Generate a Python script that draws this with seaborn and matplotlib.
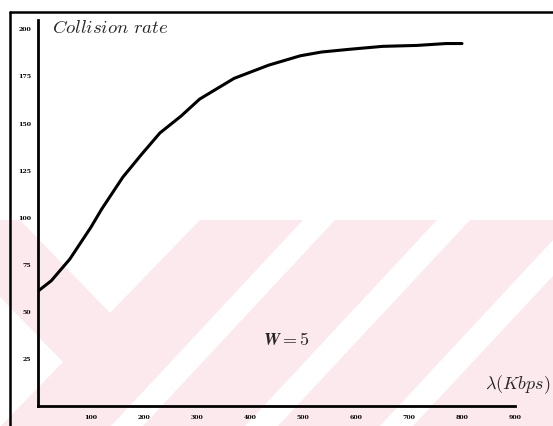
import matplotlib
matplotlib.use("Agg")
import matplotlib.pyplot as plt
import seaborn as sns
import pandas as pd
from matplotlib.patches import Polygon
from matplotlib.lines import Line2D

# data
lam = [0, 25, 60, 100, 120, 140, 160, 195, 230, 270, 305, 370, 435, 495, 535, 590, 650, 715, 770, 800]
rate = [61, 66.5, 78, 95, 104.5, 113, 121.5, 133.5, 145, 154, 163, 174, 181, 186, 188, 189.5, 191, 191.5, 192.5, 192.5]
xticks = [100, 200, 300, 400, 500, 600, 700, 800, 900]
yticks = [25, 50, 75, 100, 125, 150, 175, 200]

sns.set_theme(style="white")
plt.rcParams["mathtext.fontset"] = "cm"
plt.rcParams["font.family"] = ["DejaVu Serif"]

W, H = 553, 426
fig = plt.figure(figsize=(W / 100, H / 100), dpi=100)
fig.patch.set_facecolor("white")

def fx(px):
    return px / W

def fy(py):
    return 1 - py / H

# faint pink watermark in the background
pink = "#fce9ed"
fig.patches.append(Polygon([(fx(0), fy(220)), (fx(553), fy(220)), (fx(553), fy(426)), (fx(0), fy(426))],
                           closed=True, transform=fig.transFigure, facecolor=pink,
                           edgecolor="none", zorder=-10))
whites = [
    [(20, 220), (200, 220), (110, 313)],
    [(0, 297), (63, 362), (0, 427)],
    [(303, 220), (335, 220), (143, 426), (111, 426)],
    [(437, 220), (470, 220), (278, 426), (245, 426)],
    [(553, 240), (553, 276), (413, 426), (380, 426)],
]
for poly in whites:
    fig.patches.append(Polygon([(fx(a), fy(b)) for a, b in poly], closed=True,
                               transform=fig.transFigure, facecolor="white",
                               edgecolor="none", zorder=-9))

# outer frame
fig.lines.append(Line2D([fx(10), fx(10)], [fy(12), fy(426)], transform=fig.transFigure,
                        color="black", lw=1.8, zorder=5))
fig.lines.append(Line2D([fx(10), fx(553)], [fy(12), fy(12)], transform=fig.transFigure,
                        color="black", lw=1.8, zorder=5))

left, right, top, bottom = 38, 515, 20, 406
ax = fig.add_axes([fx(left), fy(bottom), (right - left) / W, (bottom - top) / H])
ax.set_facecolor("none")
ax.patch.set_alpha(0)

df = pd.DataFrame({"lam": lam, "rate": rate})
sns.lineplot(data=df, x="lam", y="rate", ax=ax, color="black", lw=2.2)

ax.set_xlim(0, 900)
ax.set_ylim(0, 205)
ax.set_xticks(xticks)
ax.set_yticks(yticks)
ax.set_xticklabels([str(t) for t in xticks], fontsize=4.5, fontweight="bold")
ax.set_yticklabels([str(t) for t in yticks], fontsize=4.5, fontweight="bold")
ax.tick_params(axis="x", direction="inout", length=5, width=1.2, pad=4, colors="black")
ax.tick_params(axis="y", direction="out", length=3, width=1.2, pad=2, colors="black")
ax.set_xlabel("")
ax.set_ylabel("")
for s in ["top", "right"]:
    ax.spines[s].set_visible(False)
for s in ["left", "bottom"]:
    ax.spines[s].set_visible(True)
    ax.spines[s].set_color("black")
    ax.spines[s].set_linewidth(2.0)

fig.text(fx(52), fy(33), r"$\mathit{Collision\ rate}$", fontsize=13.5, ha="left", va="baseline")
fig.text(fx(286), fy(345), r"$\boldsymbol{W} = \mathbf{5}$", fontsize=13, ha="center", va="baseline")
fig.text(fx(550), fy(389), r"$\lambda(Kbps)$", fontsize=13, ha="right", va="baseline")

fig.savefig("out.png", dpi=100)
